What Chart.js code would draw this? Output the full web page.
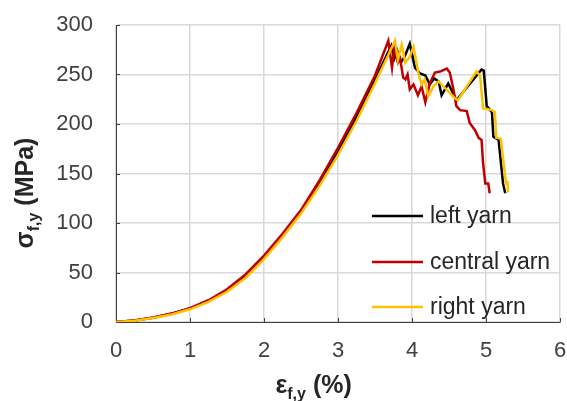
<!DOCTYPE html>
<html>
<head>
<meta charset="utf-8">
<script src="https://cdn.jsdelivr.net/npm/chart.js@4/dist/chart.umd.min.js"></script>
<style>
  html, body { margin: 0; padding: 0; background: #ffffff; }
  #wrap { width: 567px; height: 401px; position: relative; }
</style>
</head>
<body>
<div id="wrap"><canvas id="c"></canvas></div>
<script>
// ---- data (strain in %, stress in MPa) ----
const seriesLabels = ['left yarn', 'central yarn', 'right yarn'];

const leftStrain = [0, 0.25, 0.5, 0.75, 1.0, 1.25, 1.5, 1.75, 2.0, 2.25, 2.5, 2.75, 3.0, 3.25, 3.5,
  3.72, 3.76, 3.80, 3.85, 3.90, 3.97, 4.04, 4.11, 4.18, 4.24, 4.30, 4.36, 4.40, 4.49, 4.60,
  4.94, 4.97, 5.01, 5.08, 5.10, 5.17, 5.23, 5.26];
const leftStress = [0, 1.5, 4.3, 8.3, 13.8, 21.5, 32, 46.5, 65.5, 87.5, 111.5, 140, 172, 207, 245,
  279, 266, 274, 262, 268, 281, 257, 251, 249, 240, 246, 243, 229, 241, 224,
  255, 254, 218, 212, 187, 184, 140, 130];

const centralStrain = [0, 0.25, 0.5, 0.75, 1.0, 1.25, 1.5, 1.75, 2.0, 2.25, 2.5, 2.75, 3.0, 3.25, 3.5,
  3.68, 3.73, 3.76, 3.81, 3.84, 3.88, 3.91, 3.94, 3.97, 4.02, 4.08, 4.13, 4.18, 4.24, 4.31,
  4.38, 4.47, 4.51, 4.56, 4.60, 4.65, 4.74, 4.78, 4.85, 4.90, 4.94, 4.96, 4.99, 5.03, 5.05];
const centralStress = [0, 1.5, 4.5, 8.5, 14, 22, 33, 48, 67, 89, 113, 143, 176, 211, 249,
  284, 257, 277, 262, 266, 247, 245, 250, 235, 240, 229, 238, 222, 241, 252,
  253, 256, 252, 235, 218, 214, 213, 201, 194, 186, 184, 161, 140, 140, 130];

const rightStrain = [0, 0.25, 0.5, 0.75, 1.0, 1.25, 1.5, 1.75, 2.0, 2.25, 2.5, 2.75, 3.0, 3.25, 3.5,
  3.77, 3.81, 3.86, 3.91, 3.97, 4.02, 4.09, 4.13, 4.17, 4.22, 4.29, 4.36, 4.58, 4.62,
  4.87, 4.92, 4.96, 5.08, 5.12, 5.14, 5.20, 5.27, 5.29, 5.30];
const rightStress = [0, 1.3, 4, 7.6, 12.8, 20.3, 30.5, 44.5, 63.5, 85.5, 109.5, 137.5, 168.5, 203, 241,
  284, 265, 280, 262, 268, 278, 250, 240, 245, 228, 238, 243, 226, 224,
  253, 249, 216, 214, 212, 186, 185, 140, 141, 131];

const xTickMin = 0, xTickMax = 6, xTickStep = 1;
const yTickMin = 0, yTickMax = 300, yTickStep = 50;

const seriesColors = ['#000000', '#c00000', '#ffc000'];

function pts(xs, ys) { return xs.map((x, i) => ({ x: x, y: ys[i] })); }

const FONT = "'Liberation Sans', Arial, sans-serif";

// axis titles with subscripts + inward ticks + in-plot legend
const decor = {
  id: 'decor',
  beforeDatasetsDraw(chart) {
    const ctx = chart.ctx, a = chart.chartArea;
    const xs = chart.scales.x, ys = chart.scales.y;
    ctx.save();
    ctx.strokeStyle = '#404040';
    ctx.lineWidth = 1;
    ys.ticks.forEach(t => {
      const p = Math.round(ys.getPixelForValue(t.value)) + 0.5;
      ctx.beginPath(); ctx.moveTo(a.left, p); ctx.lineTo(a.left + 4, p); ctx.stroke();
    });
    xs.ticks.forEach(t => {
      const p = Math.round(xs.getPixelForValue(t.value)) + 0.5;
      ctx.beginPath(); ctx.moveTo(p, a.bottom); ctx.lineTo(p, a.bottom - 4); ctx.stroke();
    });
    ctx.restore();
  },
  afterDraw(chart) {
    const ctx = chart.ctx, a = chart.chartArea;
    ctx.save();
    ctx.fillStyle = '#262626';
    ctx.textBaseline = 'alphabetic';
    const big = 'bold 25px ' + FONT, small = 'bold 16px ' + FONT;
    function drawTitle(parts) {
      let w = 0;
      parts.forEach(p => { ctx.font = p[1] ? small : big; w += ctx.measureText(p[0]).width; });
      let x = -w / 2;
      parts.forEach(p => {
        ctx.font = p[1] ? small : big;
        ctx.textAlign = 'left';
        ctx.fillText(p[0], x, p[1] ? 6 : 0);
        x += ctx.measureText(p[0]).width;
      });
    }
    // x title
    ctx.save();
    ctx.translate(a.left + (a.right - a.left) * 0.445, 393);
    drawTitle([['ε', false], ['f,y', true], [' (%)', false]]);
    ctx.restore();
    // y title
    ctx.save();
    ctx.translate(33, 193);
    ctx.rotate(-Math.PI / 2);
    drawTitle([['σ', false], ['f,y', true], [' (MPa)', false]]);
    ctx.restore();

    // legend
    const rows = [216, 262, 307];
    ctx.font = '23px ' + FONT;
    ctx.textBaseline = 'middle';
    ctx.textAlign = 'left';
    chart.data.datasets.forEach((ds, i) => {
      ctx.strokeStyle = ds.borderColor;
      ctx.lineWidth = 2.5;
      ctx.beginPath(); ctx.moveTo(372, rows[i]); ctx.lineTo(423, rows[i]); ctx.stroke();
      ctx.fillStyle = '#262626';
      ctx.fillText(ds.label, 430, rows[i] + 1);
    });
    ctx.restore();
  }
};

new Chart(document.getElementById('c'), {
  type: 'scatter',
  data: {
    datasets: [
      { label: seriesLabels[0], data: pts(leftStrain, leftStress), borderColor: seriesColors[0], order: 3 },
      { label: seriesLabels[1], data: pts(centralStrain, centralStress), borderColor: seriesColors[1], order: 2 },
      { label: seriesLabels[2], data: pts(rightStrain, rightStress), borderColor: seriesColors[2], order: 1 }
    ].map(d => Object.assign(d, {
      showLine: true, pointRadius: 0, pointHoverRadius: 0, borderWidth: 2.5,
      backgroundColor: d.borderColor, tension: 0, fill: false
    }))
  },
  options: {
    responsive: true,
    maintainAspectRatio: false,
    animation: false,
    devicePixelRatio: 1,
    layout: { padding: { left: 0, right: 7, top: 25, bottom: 0 } },
    plugins: { legend: { display: false }, tooltip: { enabled: false } },
    scales: {
      x: {
        type: 'linear', min: xTickMin, max: xTickMax,
        afterFit(s) { s.height = 79; s.paddingLeft = 0; s.paddingRight = 0; },
        ticks: { stepSize: xTickStep, color: '#404040', padding: 16, font: { family: FONT, size: 22 } },
        grid: { color: '#d9d9d9', lineWidth: 1.5, drawTicks: false },
        border: { color: '#404040', width: 1 }
      },
      y: {
        type: 'linear', min: yTickMin, max: yTickMax,
        afterFit(s) { s.width = 116; s.paddingTop = 0; s.paddingBottom = 0; },
        ticks: { stepSize: yTickStep, color: '#404040', padding: 23, font: { family: FONT, size: 22 } },
        grid: { color: '#d9d9d9', lineWidth: 1.5, drawTicks: false },
        border: { color: '#404040', width: 1 }
      }
    }
  },
  plugins: [decor]
});
</script>
</body>
</html>
